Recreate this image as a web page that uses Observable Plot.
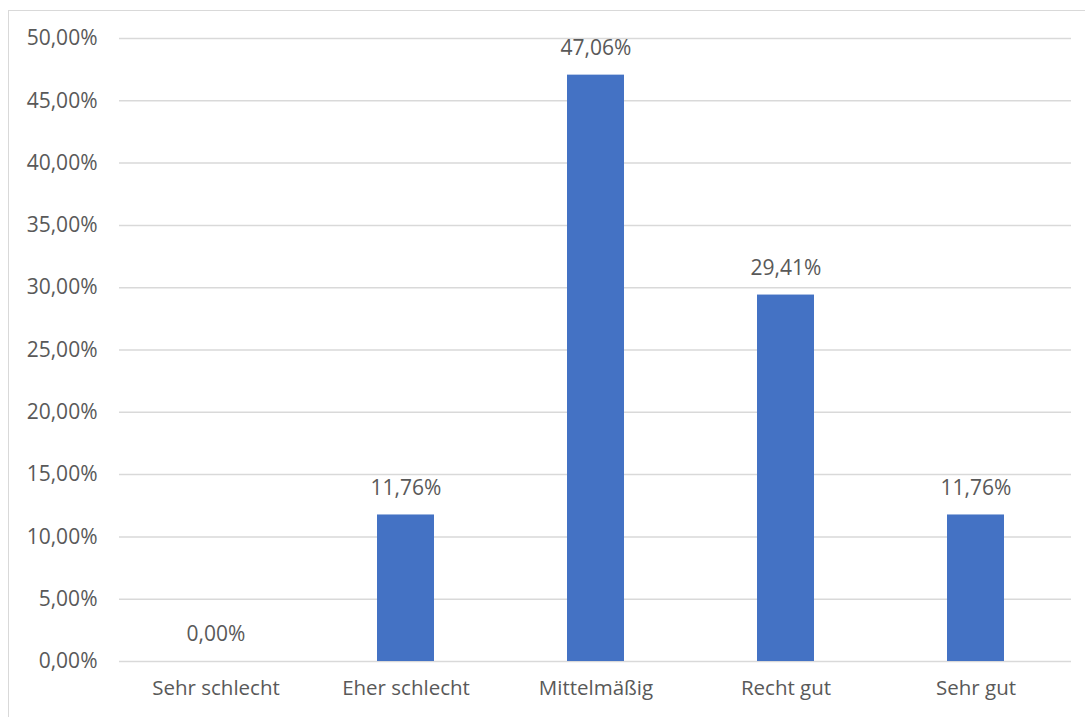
<!DOCTYPE html>
<html>
<head>
<meta charset="utf-8">
<script src="https://cdn.jsdelivr.net/npm/d3@7"></script>
<script src="https://cdn.jsdelivr.net/npm/@observablehq/plot@0.6"></script>
<style>
  html, body { margin: 0; padding: 0; background: #fff; overflow: hidden; }
  #frame { position: absolute; left: 8px; top: 10px; width: 1100px; height: 720px; border: 1.5px solid #d9d9d9; box-sizing: border-box; }
  #chart { position: absolute; left: 0; top: 0; }
  #chart svg { font-family: "Open Sans", sans-serif; }
</style>
</head>
<body>
<div id="frame"></div>
<div id="chart"></div>
<script>
const categories = ["Sehr schlecht", "Eher schlecht", "Mittelmäßig", "Recht gut", "Sehr gut"];
const values = [0.00, 11.76, 47.06, 29.41, 11.76];
const yTicks = [0, 5, 10, 15, 20, 25, 30, 35, 40, 45, 50];

const data = categories.map((c, i) => ({category: c, value: values[i]}));
const fmt = d => d.toFixed(2).replace(".", ",") + "%";

const chart = Plot.plot({
  width: 1085,
  height: 717,
  marginLeft: 119,
  marginRight: 14,
  marginTop: 38,
  marginBottom: 56,
  style: {fontSize: "21px", color: "#595959", background: "transparent", fontFamily: "'Open Sans', sans-serif"},
  x: {domain: categories, paddingInner: 0.7, paddingOuter: 0.35, label: null},
  y: {domain: [0, 50], ticks: yTicks, tickFormat: fmt, label: null},
  marks: [
    Plot.gridY(yTicks, {stroke: "#d9d9d9", strokeOpacity: 1, strokeWidth: 1.5}),
    Plot.axisY(yTicks, {tickSize: 0, tickPadding: 22, tickFormat: fmt, fontSize: 21, fill: "#595959", label: null}),
    Plot.axisX({tickSize: 0, tickPadding: 19, fontSize: 20.5, fill: "#595959", label: null}),
    Plot.barY(data, {x: "category", y: "value", fill: "#4472C4"}),
    Plot.text(data, {x: "category", y: "value", text: d => fmt(d.value), dy: -27, fill: "#595959", fontSize: 21, lineAnchor: "middle"})
  ]
});
document.getElementById("chart").appendChild(chart);
</script>
</body>
</html>
